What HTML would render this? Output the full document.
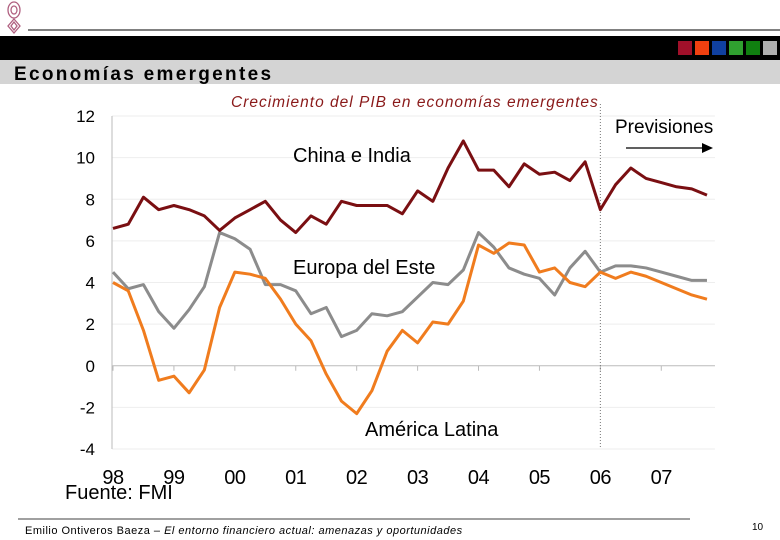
<!DOCTYPE html>
<html><head><meta charset="utf-8"><style>
body{margin:0;width:780px;height:540px;background:#fff;overflow:hidden;position:relative;font-family:"Liberation Sans",sans-serif}
.abs{position:absolute}
</style></head><body>
<svg class="abs" style="left:0;top:0" width="780" height="540">
  <g fill="none" stroke="#b06080" stroke-width="1.3">
    <ellipse cx="14" cy="10" rx="6" ry="8"/><ellipse cx="14" cy="10" rx="3" ry="4"/>
    <path d="M14 19 L20 26 L14 33 L8 26 Z"/><path d="M14 22 L17 26 L14 30 L11 26 Z"/>
  </g>
  <line x1="28" y1="30" x2="780" y2="30" stroke="#000" stroke-width="1"/>
  <rect x="0" y="36" width="780" height="24" fill="#000"/>
  <g>
    <rect x="678" y="41" width="14" height="14" fill="#a0102a"/>
    <rect x="695" y="41" width="14" height="14" fill="#f04010"/>
    <rect x="712" y="41" width="14" height="14" fill="#1040a0"/>
    <rect x="729" y="41" width="14" height="14" fill="#30a030"/>
    <rect x="746" y="41" width="14" height="14" fill="#108010"/>
    <rect x="763" y="41" width="14" height="14" fill="#b0b0b0"/>
  </g>
  <rect x="0" y="60" width="780" height="24" fill="#d4d4d4"/>
  <text x="14" y="80" font-size="19" font-weight="bold" letter-spacing="2.3" fill="#000">Economías emergentes</text>
  <text x="231" y="107" font-size="15.5" font-style="italic" letter-spacing="1" fill="#8a1a1a">Crecimiento del PIB en economías emergentes</text>
  <g id="chart"></g>
  <line x1="18" y1="519" x2="690" y2="519" stroke="#000" stroke-width="0.8"/>
  <text x="25" y="534" font-size="11" letter-spacing="0.5" fill="#000">Emilio Ontiveros Baeza – <tspan font-style="italic">El entorno financiero actual: amenazas y oportunidades</tspan></text>
  <text x="752" y="530" font-size="10" fill="#000">10</text>
</svg>
<script>
const years=["98","99","00","01","02","03","04","05","06","07"];
const yTicks=[12,10,8,6,4,2,0,-2,-4];
const china=[6.6,6.8,8.1,7.5,7.7,7.5,7.2,6.5,7.1,7.5,7.9,7.0,6.4,7.2,6.8,7.9,7.7,7.7,7.7,7.3,8.4,7.9,9.5,10.8,9.4,9.4,8.6,9.7,9.2,9.3,8.9,9.8,7.5,8.7,9.5,9.0,8.8,8.6,8.5,8.2];
const europa=[4.5,3.7,3.9,2.6,1.8,2.7,3.8,6.4,6.1,5.6,3.9,3.9,3.6,2.5,2.8,1.4,1.7,2.5,2.4,2.6,3.3,4.0,3.9,4.6,6.4,5.7,4.7,4.4,4.2,3.4,4.7,5.5,4.5,4.8,4.8,4.7,4.5,4.3,4.1,4.1];
const latina=[4.0,3.6,1.7,-0.7,-0.5,-1.3,-0.2,2.8,4.5,4.4,4.2,3.2,2.0,1.2,-0.4,-1.7,-2.3,-1.2,0.7,1.7,1.1,2.1,2.0,3.1,5.8,5.4,5.9,5.8,4.5,4.7,4.0,3.8,4.5,4.2,4.5,4.3,4.0,3.7,3.4,3.2];
const forecastIndex=32;
const NS="http://www.w3.org/2000/svg";
const g=document.getElementById('chart');
const x0=113,dx=15.23,yTop=116,yBot=449,vMax=12,vMin=-4;
const X=i=>x0+i*dx;
const Y=v=>yTop+(vMax-v)*(yBot-yTop)/(vMax-vMin);
function mk(t,a){const e=document.createElementNS(NS,t);for(const k in a)e.setAttribute(k,a[k]);g.appendChild(e);return e;}
const xEnd=X(39)+8;
yTicks.forEach(v=>{
  const l=mk('line',{x1:112,x2:xEnd,y1:Y(v),y2:Y(v),stroke:v===0?'#bbb':'#eee','stroke-width':1});
  
  
  const t=mk('text',{x:95,y:Y(v)+6,'font-size':17,'text-anchor':'end',fill:'#000'});
  t.textContent=String(v);
  
  
});
const ax=mk('line',{x1:112,x2:112,y1:yTop,y2:yBot,stroke:'#bbb','stroke-width':1});


years.forEach((y,i)=>{
  const xi=X(i*4);
  const tk=mk('line',{x1:xi,x2:xi,y1:Y(0),y2:Y(0)+5,stroke:'#bbb'});
  
  
  const t=mk('text',{x:xi,y:484,'font-size':20,'text-anchor':'middle',fill:'#000','letter-spacing':'-0.5'});
  t.textContent=y;
  
  
});
const fx=X(forecastIndex);
const fl=mk('line',{x1:fx,x2:fx,y1:yTop-12,y2:yBot,stroke:'#777','stroke-dasharray':'1,2'});


function series(d,c,n){
  const p=mk('polyline',{points:d.map((v,i)=>X(i)+','+Y(v)).join(' '),fill:'none',stroke:c,'stroke-width':3,'stroke-linejoin':'round'});
  
  
}
series(europa,'#8c8c8c','line-europa-del-este');
series(latina,'#f07c1e','line-america-latina');
series(china,'#7a0f12','line-china-india');
function lbl(s,x,y,n,fs,ls){const t=mk('text',{x:x,y:y,'font-size':fs,fill:'#000','letter-spacing':ls});t.textContent=s;
  
  }
lbl('China e India',293,162,'label-china-india',20,'0');
lbl('Europa del Este',293,274,'label-europa-del-este',20,'0');
lbl('América Latina',365,436,'label-america-latina',20,'0');
lbl('Previsiones',615,133,'label-previsiones',19,'0');
lbl('Fuente: FMI',65,499,'source-note',20,'0');
const ar=mk('line',{x1:626,x2:704,y1:148,y2:148,stroke:'#000','stroke-width':1.2});


const ah=mk('polygon',{points:'702,143 713,148 702,153',fill:'#000'});


</script>
</body></html>
